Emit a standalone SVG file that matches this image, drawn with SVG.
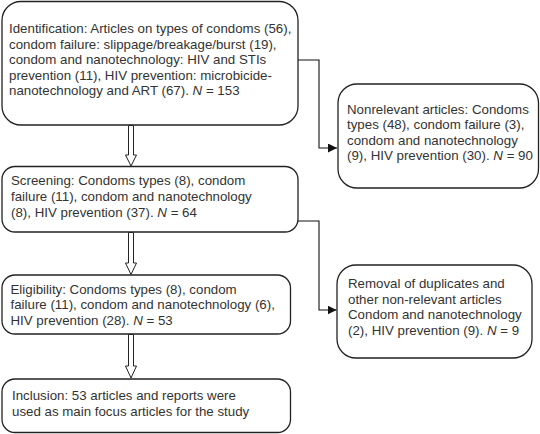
<svg xmlns="http://www.w3.org/2000/svg" width="540" height="434" viewBox="0 0 540 434">
<defs>
<style>
.box{fill:#fff;stroke:#222;stroke-width:1.3}
.t{font-family:"Liberation Sans",Arial,sans-serif;font-size:13.3px;fill:#333}
.conn{fill:none;stroke:#111;stroke-width:1.1}
.hollow{fill:#fff;stroke:#222;stroke-width:1}
</style>
<marker id="ah" viewBox="0 0 10 10" refX="10" refY="5" markerWidth="9" markerHeight="9" markerUnits="userSpaceOnUse" orient="auto">
<path d="M0,0 L10,5 L0,10 z" fill="#111"/>
</marker>
</defs>
<rect width="540" height="434" fill="#fff"/>
<g id="identification">
<rect class="box" x="2" y="1.5" width="296" height="123.5" rx="19"/>
<text class="t"><tspan x="9" y="33">Identification: Articles on types of condoms (56),</tspan><tspan x="9" y="48.5">condom failure: slippage/breakage/burst (19),</tspan><tspan x="9" y="64">condom and nanotechnology: HIV and STIs</tspan><tspan x="9" y="79.5">prevention (11), HIV prevention: microbicide-</tspan><tspan x="9" y="95">nanotechnology and ART (67). <tspan font-style="italic">N</tspan> = 153</tspan></text>
</g>
<g id="nonrelevant">
<rect class="box" x="338" y="84" width="200.5" height="104" rx="19"/>
<text class="t"><tspan x="347" y="114">Nonrelevant articles: Condoms</tspan><tspan x="347" y="129.3">types (48), condom failure (3),</tspan><tspan x="347" y="144.5">condom and nanotechnology</tspan><tspan x="347" y="159.5">(9), HIV prevention (30). <tspan font-style="italic">N</tspan> = 90</tspan></text>
</g>
<g id="screening">
<rect class="box" x="2" y="166.5" width="296" height="65.5" rx="13"/>
<text class="t"><tspan x="11" y="185">Screening: Condoms types (8), condom</tspan><tspan x="11" y="201">failure (11), condom and nanotechnology</tspan><tspan x="11" y="216.5">(8), HIV prevention (37). <tspan font-style="italic">N</tspan> = 64</tspan></text>
</g>
<g id="removal">
<rect class="box" x="337" y="265" width="195" height="93" rx="19"/>
<text class="t"><tspan x="348" y="288">Removal of duplicates and</tspan><tspan x="348" y="303.5">other non-relevant articles</tspan><tspan x="348" y="319">Condom and nanotechnology</tspan><tspan x="348" y="334.5">(2), HIV prevention (9). <tspan font-style="italic">N</tspan> = 9</tspan></text>
</g>
<g id="eligibility">
<rect class="box" x="2" y="275" width="288.5" height="59" rx="13"/>
<text class="t"><tspan x="10.5" y="293.5">Eligibility: Condoms types (8), condom</tspan><tspan x="10.5" y="309">failure (11), condom and nanotechnology (6),</tspan><tspan x="10.5" y="324.5">HIV prevention (28). <tspan font-style="italic">N</tspan> = 53</tspan></text>
</g>
<g id="inclusion">
<rect class="box" x="2" y="379" width="288.5" height="53.5" rx="13"/>
<text class="t"><tspan x="12" y="400">Inclusion: 53 articles and reports were</tspan><tspan x="12" y="415.5">used as main focus articles for the study</tspan></text>
</g>
<g id="connectors">
<path class="conn" d="M298,60 H319 V148 H337" marker-end="url(#ah)"/>
<path class="conn" d="M298,221 H319 V310 H336.5" marker-end="url(#ah)"/>
<polygon class="hollow" points="128.5,125.5 133.5,125.5 133.5,155 136.5,155 131,166 125.5,155 128.5,155"/>
<polygon class="hollow" points="128.5,232.5 133.5,232.5 133.5,263 136.5,263 131,274.5 125.5,263 128.5,263"/>
<polygon class="hollow" points="128.5,334.5 133.5,334.5 133.5,366 136.5,366 131,378 125.5,366 128.5,366"/>
</g>
</svg>
